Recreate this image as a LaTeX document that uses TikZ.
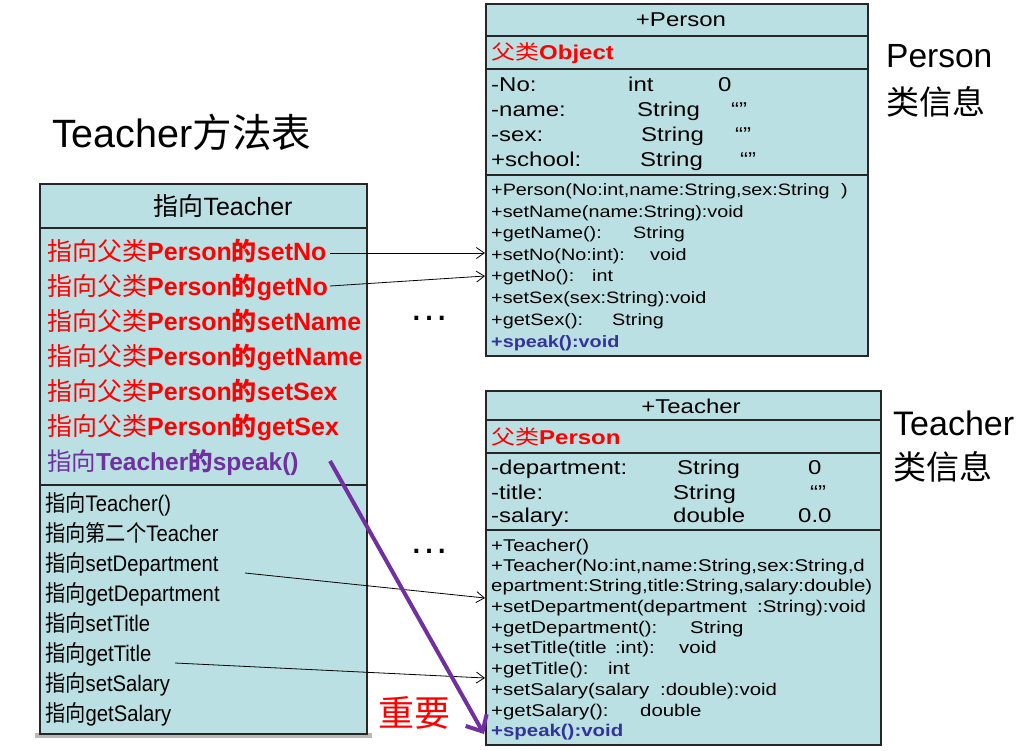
\documentclass[tikz,border=0pt]{standalone}
\usepackage{fontspec}
\setmainfont{Liberation Sans}
\newfontfamily\cjk{Noto Sans CJK SC}
\newfontfamily\bx[FakeStretch=1.2]{Liberation Sans}
\newfontfamily\bxc[FakeStretch=1.2]{Noto Sans CJK SC}
\newfontfamily\nar[FakeStretch=0.9]{Liberation Sans}
\newfontfamily\narc[FakeStretch=0.9]{Noto Sans CJK SC}
\usetikzlibrary{arrows.meta}
\definecolor{boxfill}{RGB}{187,224,227}
\definecolor{pur}{RGB}{112,48,160}
\definecolor{spk}{RGB}{51,51,153}
\definecolor{myred}{RGB}{255,0,0}
\newcommand\zh[1]{{\cjk #1}}
\newcommand\zhm[1]{{\mdseries\cjk #1}}
\newcommand\zb[1]{{\mdseries\bxc #1}}
\newcommand\zn[1]{{\narc #1}}
\tikzset{
  boxline/.style={draw=black!85, line width=1.3pt, fill=boxfill},
  sepline/.style={draw=black!85, line width=1.3pt},
  txt/.style={inner sep=0pt, anchor=base west},
  hdr/.style={inner sep=0pt, anchor=base, font=\fontsize{20}{20}\bx},
  attr/.style={txt, font=\fontsize{20}{20}\bx},
  pmeth/.style={txt, font=\fontsize{16.5}{16.5}\bx},
  tmeth/.style={txt, font=\fontsize{17}{17}\bx},
  lhead/.style={inner sep=0pt, anchor=base, font=\fontsize{25}{25}\selectfont},
  lred/.style={txt, text=myred, font=\fontsize{25}{25}\selectfont\bfseries},
  lpur/.style={txt, text=pur, font=\fontsize{24.5}{24.5}\selectfont\bfseries},
  lblk/.style={txt, font=\fontsize{22.5}{22.5}\nar},
  thinarrow/.style={draw=black, line width=0.8pt, -{Straight Barb[length=8pt,width=11pt]}},
  bigarrow/.style={draw=pur, line width=4pt, -{Straight Barb[length=13pt,width=24pt]}},
}
\begin{document}
\begin{tikzpicture}[x=1pt,y=-1pt]
\useasboundingbox (0,0) rectangle (1019,750);

% ---------- Title ----------
\node[txt, font=\fontsize{39.5}{39.5}\selectfont] (title) at (52,147) {Teacher\zh{方法表}};

% ---------- Left method table ----------
\fill[gray!55] (35,733) rectangle (372,738);
\path[boxline] (40,184) rectangle (367,734);
\draw[sepline] (40,228) -- (367,228);
\draw[sepline] (40,485) -- (367,485);
\node[lhead] (tH) at (223,215) {\zh{指向}Teacher};
\node[lred] (r1) at (47,260) {\zhm{指向父类}Person\zh{的}setNo};
\node[lred] (r2) at (47,295) {\zhm{指向父类}Person\zh{的}getNo};
\node[lred] (r3) at (47,330) {\zhm{指向父类}Person\zh{的}setName};
\node[lred] (r4) at (47,365) {\zhm{指向父类}Person\zh{的}getName};
\node[lred] (r5) at (47,400) {\zhm{指向父类}Person\zh{的}setSex};
\node[lred] (r6) at (47,435) {\zhm{指向父类}Person\zh{的}getSex};
\node[lpur] (r7) at (47,470) {\zhm{指向}Teacher\zh{的}speak()};
\node[lblk] (b1) at (45,511) {\zn{指向}Teacher()};
\node[lblk] (b2) at (45,541) {\zn{指向第二个}Teacher};
\node[lblk] (b3) at (45,571) {\zn{指向}setDepartment};
\node[lblk] (b4) at (45,601) {\zn{指向}getDepartment};
\node[lblk] (b5) at (45,631) {\zn{指向}setTitle};
\node[lblk] (b6) at (45,661) {\zn{指向}getTitle};
\node[lblk] (b7) at (45,691) {\zn{指向}setSalary};
\node[lblk] (b8) at (45,721) {\zn{指向}getSalary};

% ---------- Person box ----------
\path[boxline] (486,4) rectangle (868,356);
\draw[sepline] (486,36) -- (868,36);
\draw[sepline] (486,69) -- (868,69);
\draw[sepline] (486,175) -- (868,175);
\node[hdr] (pH) at (681,26) {+Person};
\node[attr, text=myred, font=\fontsize{20}{20}\bx\bfseries] (pP) at (491,59) {\zb{父类}Object};
\node[attr] (pa1) at (491,91) {-No:};
\node[attr] (pa1t) at (628,91) {int};
\node[attr] (pa1v) at (718,91) {0};
\node[attr] (pa2) at (491,116) {-name:};
\node[attr] (pa2t) at (637,116) {String};
\node[attr] (pa2v) at (731,116) {“”};
\node[attr] (pa3) at (491,141) {-sex:};
\node[attr] (pa3t) at (641,141) {String};
\node[attr] (pa3v) at (735,141) {“”};
\node[attr] (pa4) at (491,166) {+school:};
\node[attr] (pa4t) at (640,166) {String};
\node[attr] (pa4v) at (740,166) {“”};
\node[pmeth] (pm1) at (491,195) {+Person(No:int,name:String,sex:String};
\node[pmeth] (pm1b) at (841,195) {)};
\node[pmeth] (pm2) at (491,217) {+setName(name:String):void};
\node[pmeth] (pm3) at (491,238) {+getName():};
\node[pmeth] (pm3t) at (633,238) {String};
\node[pmeth] (pm4) at (491,260) {+setNo(No:int):};
\node[pmeth] (pm4t) at (650,260) {void};
\node[pmeth] (pm5) at (491,281) {+getNo():};
\node[pmeth] (pm5t) at (592,281) {int};
\node[pmeth] (pm6) at (491,303) {+setSex(sex:String):void};
\node[pmeth] (pm7) at (491,325) {+getSex():};
\node[pmeth] (pm7t) at (612,325) {String};
\node[pmeth, text=spk, font=\fontsize{16.5}{16.5}\bx\bfseries] (pm8) at (491,347) {+speak():void};

% ---------- Teacher box ----------
\path[boxline] (486,391) rectangle (881,745);
\draw[sepline] (486,420) -- (881,420);
\draw[sepline] (486,453) -- (881,453);
\draw[sepline] (486,530) -- (881,530);
\node[hdr] (tcH) at (691,413) {+Teacher};
\node[attr, text=myred, font=\fontsize{20}{20}\bx\bfseries] (tcP) at (491,444) {\zb{父类}Person};
\node[attr] (ta1) at (491,474) {-department:};
\node[attr] (ta1t) at (677,474) {String};
\node[attr] (ta1v) at (808,474) {0};
\node[attr] (ta2) at (491,499) {-title:};
\node[attr] (ta2t) at (673,499) {String};
\node[attr] (ta2v) at (810,499) {“”};
\node[attr] (ta3) at (491,522) {-salary:};
\node[attr] (ta3t) at (673,522) {double};
\node[attr] (ta3v) at (798,522) {0.0};
\node[tmeth] (tm1) at (491,551) {+Teacher()};
\node[tmeth] (tm2) at (491,571) {+Teacher(No:int,name:String,sex:String,d};
\node[tmeth] (tm3) at (491,591) {epartment:String,title:String,salary:double)};
\node[tmeth] (tm4) at (491,612) {+setDepartment(department};
\node[tmeth] (tm4b) at (757,612) {:String):void};
\node[tmeth] (tm5) at (491,633) {+getDepartment():};
\node[tmeth] (tm5t) at (690,633) {String};
\node[tmeth] (tm6) at (491,653) {+setTitle(title};
\node[tmeth] (tm6b) at (615,653) {:int):};
\node[tmeth] (tm6t) at (679,653) {void};
\node[tmeth] (tm7) at (491,674) {+getTitle():};
\node[tmeth] (tm7t) at (608,674) {int};
\node[tmeth] (tm8) at (491,695) {+setSalary(salary};
\node[tmeth] (tm8b) at (660,695) {:double):void};
\node[tmeth] (tm9) at (491,716) {+getSalary():};
\node[tmeth] (tm9t) at (640,716) {double};
\node[tmeth, text=spk, font=\fontsize{17}{17}\bx\bfseries] (tm10) at (491,736) {+speak():void};

% ---------- side labels ----------
\node[txt, font=\fontsize{33.5}{33.5}\selectfont] (lp1) at (886,67) {Person};
\node[inner sep=0pt, anchor=west, font=\fontsize{33}{33}\cjk] (lp2) at (886,102) {类信息};
\node[txt, font=\fontsize{34}{34}\selectfont] (lt1) at (893,435) {Teacher};
\node[inner sep=0pt, anchor=west, font=\fontsize{33}{33}\cjk] (lt2) at (893,467) {类信息};
\node[inner sep=0pt, font=\fontsize{40}{40}\selectfont] (dots1) at (429,318) {…};
\node[inner sep=0pt, font=\fontsize{40}{40}\selectfont] (dots2) at (429,551) {…};
\node[inner sep=0pt, anchor=west, text=myred, font=\fontsize{36}{36}\cjk] (imp) at (378,713) {重要};

% ---------- connectors ----------
\coordinate (s1) at (330,253);
\coordinate (e1) at (485,253);
\coordinate (s2) at (330,286);
\coordinate (e2) at (485,276);
\coordinate (s3) at (245,573);
\coordinate (e3) at (485,598);
\coordinate (s4) at (175,663);
\coordinate (e4) at (485,678);
\coordinate (s5) at (330,461);
\coordinate (e5) at (484,734);
\draw[thinarrow] (s1) -- (e1);
\draw[thinarrow] (s2) -- (e2);
\draw[thinarrow] (s3) -- (e3);
\draw[thinarrow] (s4) -- (e4);
\draw[bigarrow] (s5) -- (e5);
\end{tikzpicture}
\end{document}
